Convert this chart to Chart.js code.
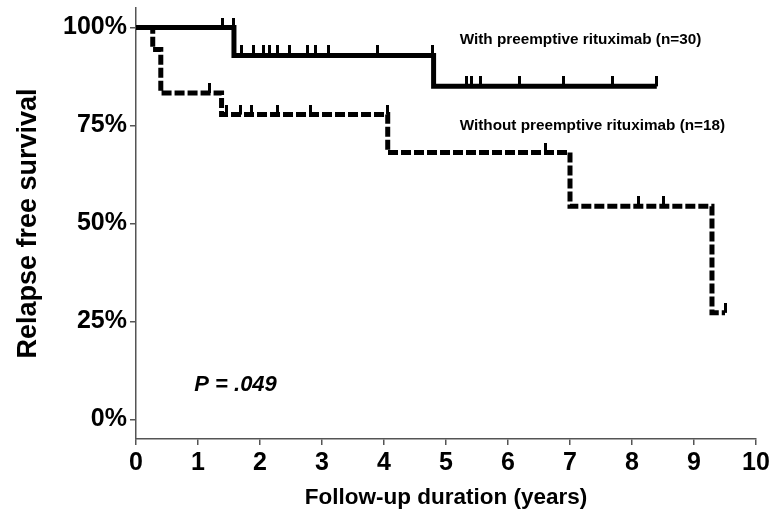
<!DOCTYPE html>
<html>
<head>
<meta charset="utf-8">
<script src="https://cdn.jsdelivr.net/npm/chart.js@4/dist/chart.umd.min.js"></script>
<style>
  html, body { margin: 0; padding: 0; background: #fff; }
  #wrap { width: 771px; height: 521px; }
</style>
</head>
<body>
<div id="wrap"><canvas id="km"></canvas></div>
<script>
// Kaplan-Meier steps (years, % relapse free)
const withTimes = [0, 1.58, 4.80, 8.40];
const withSurv = [100, 92.9, 85.0, 85.0];
const withCensored = [1.40, 1.57, 1.70, 1.89, 2.05, 2.16, 2.29, 2.48, 2.77, 2.89, 3.10, 3.89, 4.79,
  5.33, 5.41, 5.55, 6.19, 6.90, 7.69, 8.40];

const withoutTimes = [0, 0.27, 0.40, 1.38, 4.06, 7.00, 9.29, 9.50];
const withoutSurv = [100, 94.4, 83.3, 77.8, 68.1, 54.4, 27.2, 27.2];
const withoutCensored = [1.19, 1.46, 1.68, 1.87, 2.29, 2.81, 4.05, 6.60, 8.10, 8.50, 9.50];

const xTicks = [0, 1, 2, 3, 4, 5, 6, 7, 8, 9, 10];
const yTicks = [0, 25, 50, 75, 100];

const labelWith = 'With preemptive rituximab (n=30)';
const labelWithout = 'Without preemptive rituximab (n=18)';
const pText = 'P = .049';

// survival value of a step curve at time t
function survAt(times, surv, t) {
  let v = surv[0];
  times.forEach((tt, i) => { if (tt <= t) v = surv[i]; });
  return v;
}

// censor mark: small vertical tick pointing up from the line
const tick = document.createElement('canvas');
tick.width = 3;
tick.height = 20;
const tctx = tick.getContext('2d');
tctx.fillStyle = '#000';
tctx.fillRect(0, 0, 3, 10);

const notes = {
  id: 'notes',
  afterDatasetsDraw(chart) {
    const { ctx, scales: { x, y } } = chart;
    ctx.save();
    ctx.fillStyle = '#000';
    ctx.textBaseline = 'middle';
    ctx.textAlign = 'left';
    ctx.font = 'bold 15.3px "Liberation Sans", Arial, sans-serif';
    ctx.fillText(labelWith, x.getPixelForValue(5.22), y.getPixelForValue(97));
    ctx.fillText(labelWithout, x.getPixelForValue(5.22), y.getPixelForValue(75));
    ctx.font = 'italic bold 22px "Liberation Sans", Arial, sans-serif';
    ctx.fillText(pText, x.getPixelForValue(0.94), y.getPixelForValue(8.7));
    ctx.restore();
  }
};

const font = '"Liberation Sans", Arial, sans-serif';

new Chart(document.getElementById('km'), {
  type: 'line',
  data: {
    datasets: [
      {
        label: labelWith,
        data: withTimes.map((t, i) => ({ x: t, y: withSurv[i] })),
        borderColor: '#000',
        borderWidth: 5,
        stepped: 'before',
        pointRadius: 0,
        fill: false
      },
      {
        label: labelWithout,
        data: withoutTimes.map((t, i) => ({ x: t, y: withoutSurv[i] })),
        borderColor: '#000',
        borderWidth: 5,
        borderDash: [10, 3],
        stepped: 'before',
        pointRadius: 0,
        fill: false
      },
      {
        label: 'censored (with)',
        data: withCensored.map(t => ({ x: t, y: survAt(withTimes, withSurv, t) })),
        showLine: false,
        pointStyle: tick,
        pointRadius: 5
      },
      {
        label: 'censored (without)',
        data: withoutCensored.map(t => ({ x: t, y: survAt(withoutTimes, withoutSurv, t) })),
        showLine: false,
        pointStyle: tick,
        pointRadius: 5
      }
    ]
  },
  options: {
    responsive: true,
    maintainAspectRatio: false,
    animation: false,
    layout: { padding: { top: 8, right: 15, left: 0, bottom: 0 } },
    plugins: {
      legend: { display: false },
      tooltip: { enabled: false }
    },
    scales: {
      x: {
        type: 'linear',
        min: 0,
        max: 10,
        afterBuildTicks: s => { s.ticks = xTicks.map(v => ({ value: v })); },
        afterFit: s => { s.height = 82; s.paddingLeft = 0; s.paddingRight = 0; },
        border: { color: '#555', width: 1.5 },
        grid: { drawOnChartArea: false, color: '#555', tickLength: 6, lineWidth: 1.5 },
        ticks: { color: '#000', padding: 3, font: { family: font, size: 25, weight: 'bold' } },
        title: {
          display: true,
          text: 'Follow-up duration (years)',
          color: '#000',
          font: { family: font, size: 22.5, weight: 'bold' },
          padding: { top: 0, bottom: 10 }
        }
      },
      y: {
        type: 'linear',
        min: -5,
        max: 105,
        afterBuildTicks: s => { s.ticks = yTicks.map(v => ({ value: v })); },
        afterFit: s => { s.width = 136; s.paddingTop = 0; s.paddingBottom = 0; },
        border: { color: '#555', width: 1.5 },
        grid: { drawOnChartArea: false, color: '#555', tickLength: 6, lineWidth: 1.5 },
        ticks: {
          color: '#000',
          padding: 3,
          font: { family: font, size: 25, weight: 'bold' },
          callback: v => v + '%'
        },
        title: {
          display: true,
          text: 'Relapse free survival',
          color: '#000',
          font: { family: font, size: 27, weight: 'bold' },
          padding: { top: 12, bottom: 0 }
        }
      }
    }
  },
  plugins: [notes]
});
</script>
</body>
</html>
